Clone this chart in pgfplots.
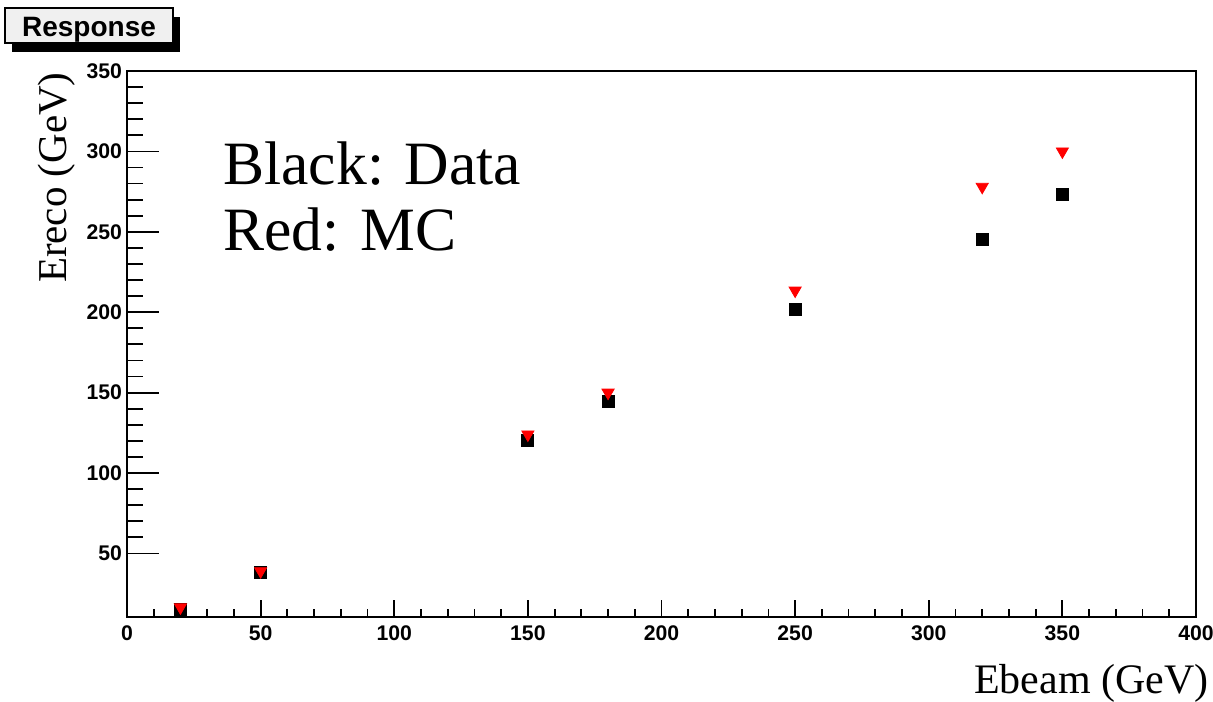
\documentclass[border=0pt]{standalone}
\usepackage{fontspec}
\setmainfont{Liberation Serif}
\newfontfamily\hel{Liberation Sans}
\usepackage{pgfplots}
\pgfplotsset{compat=1.18}

\pgfplotsset{rootframe/.style={
    scale only axis,
    width=534.5pt, height=273pt,
    at={(0,0)}, anchor=south west,
    xmin=0, xmax=400, ymin=10.5, ymax=350,
    axis line style={line width=1pt},
    tick style={line width=0.9pt, black},
    tick align=inside,
    xtick pos=bottom, ytick pos=left,
    /pgf/number format/assume math mode=true,
    tick label style={font=\hel\bfseries\fontsize{10.6}{10.6}\selectfont},
    clip=false,
}}

\begin{document}
\begin{tikzpicture}
\useasboundingbox (-63.5pt,-42pt) rectangle (543pt,308.5pt);

% x ticks + data
\begin{axis}[rootframe,
    xtick={0,50,...,400}, minor x tick num=4,
    major tick length=8.5pt, minor tick length=4pt,
    ytick=\empty,
    xticklabel style={yshift=-1pt},
]
\addplot[only marks, mark=square*, mark size=3pt, black] coordinates {
(20,15.5) (50,38) (150,120) (180,144.5) (250,202) (320,245) (350,273)};
\addplot[only marks, mark=triangle*, mark size=3.5pt, red, mark options={rotate=180}] coordinates {
(20,16.5) (50,39) (150,124) (180,150) (250,213.5) (320,278) (350,300)};
\end{axis}

% y ticks (longer, as in ROOT)
\begin{axis}[rootframe,
    xtick=\empty,
    ytick={50,100,...,350}, minor y tick num=4,
    major tick length=16pt, minor tick length=8pt,
    yticklabel style={xshift=1pt},
]
\end{axis}

\node[anchor=base west, font=\fontsize{30.8}{30.8}\selectfont, inner sep=0pt] at (48pt,216pt) {Black: Data};
\node[anchor=base west, font=\fontsize{30.8}{30.8}\selectfont, inner sep=0pt] at (48pt,183pt) {Red: MC};

\node[anchor=base east, rotate=90, font=\fontsize{20.5}{20.5}\selectfont, inner sep=0pt] at (-30pt,272.5pt) {Ereco (GeV)};
\node[anchor=base east, font=\fontsize{21}{21}\selectfont, inner sep=0pt] at (541pt,-38pt) {Ebeam (GeV)};

% title box with shadow
\fill[black] (-57.5pt,282.5pt) rectangle (26.5pt,300pt);
\draw[line width=0.8pt, fill=black!6] (-61pt,287pt) rectangle (23pt,304.5pt);
\node[anchor=base, font=\hel\bfseries\fontsize{14}{14}\selectfont, inner sep=0pt] at (-19pt,290pt) {Response};
\end{tikzpicture}
\end{document}
